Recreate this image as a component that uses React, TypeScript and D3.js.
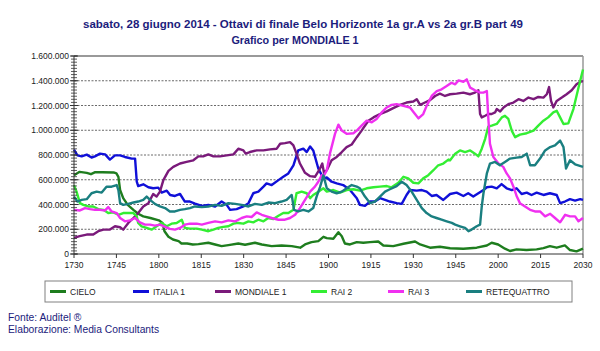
import React from "react";
import * as d3 from "d3";

const TITLE = "sabato, 28 giugno 2014 - Ottavi di finale Belo Horizonte 1a gr.A vs 2a gr.B part 49";
const SUBTITLE = "Grafico per MONDIALE 1";
const FOOTER = ["Fonte: Auditel ®", "Elaborazione: Media Consultants"];

const xTickLabels = ["1730", "1745", "1800", "1815", "1830", "1845", "1900", "1915", "1930", "1945", "2000", "2015", "2030"];
const yTicks = [0, 200000, 400000, 600000, 800000, 1000000, 1200000, 1400000, 1600000];

// [minute from 17:30, thousands of viewers]
const cielo: [number, number][] = [[0,637],[2,664],[4.5,656],[6,645],[7.5,661],[10,661],[14,659],[15,651],[15.7,624],[16.3,517],[17.4,451],[19,397],[21,357],[22.7,325],[24.5,304],[27,291],[30,272],[31.3,251],[32,184],[33.4,139],[35,117],[37,104],[38,85],[40,85],[42,77],[44,80],[47.5,91],[49.9,77],[52.2,64],[54.6,72],[58.1,85],[60.5,75],[64,91],[66.4,77],[69.9,64],[73.4,69],[77,64],[80,51],[81.7,77],[84,96],[86.4,104],[88.2,139],[89.4,128],[91.7,123],[93.5,176],[94.7,144],[95.8,85],[97.6,77],[100,96],[102.3,91],[104.7,96],[107.6,101],[109.4,69],[112.9,64],[116.5,83],[120.6,101],[122.4,77],[125.9,51],[129.4,59],[133,46],[137.7,43],[142.4,51],[146,69],[147.7,91],[150,77],[152.4,43],[154.2,24],[156.5,37],[160,32],[163.6,37],[166,48],[168.3,64],[170.7,51],[173.6,69],[175.4,32],[177.7,21],[180,43]];

const italia1: [number, number][] = [[0,843],[1.2,797],[2.7,789],[4.5,803],[6.2,779],[7.4,789],[9.2,811],[11,805],[12.7,763],[14.5,797],[16.3,797],[18,784],[20.4,771],[21.6,771],[22.2,584],[22.7,549],[24.5,563],[26.3,539],[28,531],[29.8,536],[31,496],[32.8,512],[34,477],[35.7,469],[37.5,485],[39.2,424],[41,424],[42.8,408],[45.2,389],[47.5,397],[49.9,384],[52.2,424],[54,397],[55.2,357],[57.5,363],[59.9,384],[61.7,411],[63.4,491],[65.2,504],[67,544],[68.1,571],[69.9,557],[72.3,597],[74,624],[75.8,651],[77.6,717],[79.3,837],[81.1,851],[82.3,824],[83.5,869],[84.6,837],[86.4,691],[88.2,611],[89.4,618],[91.1,584],[92.9,571],[95.2,557],[97.6,517],[100,451],[101.1,397],[102.9,389],[104.7,424],[106.4,424],[108.2,451],[110,437],[111.7,424],[114.1,411],[115.9,405],[117.6,477],[118.8,517],[121.2,512],[123,517],[124.7,504],[126.5,469],[128.2,477],[130.6,437],[133,485],[135.3,496],[137.7,469],[139.4,491],[141.2,464],[143,491],[144.8,517],[146,539],[147.7,544],[149.5,531],[151.2,565],[153,531],[154.8,517],[156.5,531],[158.3,485],[160.1,496],[161.8,477],[163.6,496],[166,477],[168.3,491],[170.7,477],[171.9,411],[173.6,424],[175.4,443],[177.2,432],[179,443],[180,437]];

const mondiale1: [number, number][] = [[0,131],[2,144],[4.5,157],[6.8,157],[8.6,184],[10.4,197],[12.7,197],[14.5,224],[16.3,216],[17.4,197],[19.2,251],[21,291],[22.7,331],[24.5,384],[26.3,411],[28,485],[29.2,464],[30.4,504],[31.6,597],[33.4,672],[35.1,704],[37.5,731],[39.8,744],[42.2,757],[44,789],[45.7,789],[47.5,805],[49.3,789],[51.6,789],[54,797],[56.4,805],[58.1,851],[59.9,837],[60.7,811],[62.2,824],[64.6,837],[67,837],[69.3,845],[71.7,851],[72.9,891],[74.6,896],[76.4,904],[77.6,877],[78.7,811],[79.9,731],[81.7,656],[83.5,629],[85.2,624],[87,690],[87.8,731],[88.4,656],[89.4,677],[91.1,757],[92.9,784],[94.7,824],[96.4,864],[98.2,885],[100,944],[101.7,997],[104.1,1077],[105.9,1104],[108.2,1131],[110.6,1152],[112.9,1179],[115.3,1205],[117.6,1224],[120,1232],[121.2,1251],[122.4,1205],[124.1,1224],[125.9,1243],[127.7,1277],[129.4,1296],[131.2,1277],[133,1291],[135.3,1296],[137.7,1304],[140,1291],[141.8,1304],[143,1323],[143.6,1131],[144.2,1104],[145.4,1117],[146.5,1131],[147.7,1131],[148.9,1144],[149.5,1171],[150.7,1152],[151.9,1184],[153.6,1211],[155.4,1224],[157.2,1251],[158.9,1237],[160.7,1264],[162.5,1251],[164.2,1269],[166,1264],[167.2,1291],[168,1349],[168.7,1237],[169.5,1184],[170.7,1237],[172.5,1264],[174.2,1291],[176,1323],[177.7,1371],[179.5,1397],[180,1392]];

const rai2: [number, number][] = [[0,557],[0.9,504],[2.1,411],[3.3,397],[5,384],[6.8,384],[8.6,363],[10.4,357],[12.1,331],[13.9,336],[15.7,317],[17.4,331],[19.2,331],[21,331],[22.2,304],[22.7,251],[23.9,224],[25.7,211],[27.5,197],[29.2,224],[31,251],[32.8,224],[34.5,245],[36.3,251],[38.1,277],[39.2,211],[41,205],[43.4,205],[45.2,197],[47.5,184],[49.3,197],[51,211],[52.8,219],[54.6,224],[56.4,245],[58.1,251],[59.9,245],[61.7,264],[63.4,256],[65.2,277],[67,264],[68.7,291],[70.5,283],[72.3,309],[74,331],[75.8,331],[77.6,357],[78.7,491],[80.5,504],[82.3,491],[83.5,451],[84.6,477],[86.4,504],[88.2,531],[89.4,504],[91.7,517],[94.1,496],[96.4,517],[98.8,523],[101.1,512],[103.5,531],[105.9,539],[108.2,544],[110.6,549],[112.3,539],[114.7,576],[116.5,624],[118.2,611],[120,576],[121.8,571],[123.5,611],[125.3,637],[127.1,677],[128.8,717],[130.6,731],[132.4,763],[133,757],[134.8,811],[136.5,837],[138.3,824],[140.1,837],[141.8,811],[143,789],[144.2,851],[145.4,931],[146.5,1029],[147.7,1037],[149.5,1051],[151.3,1104],[152.4,1117],[153.6,1091],[154.8,997],[156,944],[157.7,965],[160.1,976],[162.5,997],[164.2,1037],[166,1077],[167.7,1104],[169.5,1144],[170.7,1157],[171.9,1104],[173.1,1051],[174.8,1056],[176.6,1171],[178.4,1344],[180,1491]];

const rai3: [number, number][] = [[0,357],[2.1,352],[3.9,371],[5.7,363],[7.4,357],[9.2,357],[11,352],[12.1,379],[13.3,344],[15.1,331],[16.3,291],[18,264],[19.8,272],[21.6,291],[23.3,256],[25.1,237],[26.9,237],[28.6,229],[30.4,237],[32.2,219],[33.9,203],[35.7,197],[37.5,211],[39.2,237],[41,245],[43.4,245],[45.2,237],[47.5,251],[49.9,264],[52.2,256],[54.6,272],[57,264],[59.3,291],[61.1,304],[62.8,299],[64.6,336],[66.4,317],[68.1,304],[69.9,291],[72.3,277],[74.6,277],[76.4,291],[78.2,317],[79.9,371],[81.7,437],[83.5,504],[85.2,544],[86.4,584],[87.6,637],[88.2,624],[89.4,677],[90.5,811],[92.3,971],[93.5,1045],[94.7,997],[96.4,971],[98.8,976],[100,997],[101.7,1037],[103.5,1077],[105.3,1064],[107,1091],[108.8,1144],[110.6,1184],[112.3,1205],[114.1,1211],[116.5,1197],[118.8,1184],[120.6,1131],[121.8,1096],[123.5,1131],[124.7,1197],[126.5,1277],[128.3,1317],[130,1331],[131.8,1357],[133.5,1384],[134.8,1371],[136,1403],[137.7,1392],[138.9,1411],[140.1,1344],[141.8,1323],[143.6,1304],[144.8,1304],[146,1317],[146.5,1104],[147.1,891],[148.3,784],[150.1,731],[151.8,704],[153,651],[154.2,611],[155.4,544],[156.6,464],[157.7,411],[159.5,384],[161.3,357],[163,344],[164.8,344],[166.6,304],[168.4,325],[170.1,291],[171.9,256],[173.7,317],[175.4,304],[177.2,304],[178.4,264],[180,291]];

const retequattro: [number, number][] = [[0,464],[1.2,424],[2.7,437],[4.5,443],[6.2,491],[8,504],[9.8,496],[11.5,544],[13.3,544],[15.1,557],[15.7,517],[16.3,411],[17.4,397],[19.2,405],[21,416],[22.7,424],[24.5,437],[25.7,464],[26.9,437],[28.6,405],[30.4,384],[32.2,371],[33.9,344],[35.7,344],[37.5,357],[39.2,363],[41,371],[42.8,384],[45.2,379],[47.5,384],[49.9,397],[52.2,389],[54.6,411],[57,405],[59.3,397],[61.7,384],[64,405],[66.4,397],[68.7,416],[71.1,411],[73.4,424],[75.2,437],[77,477],[77.8,357],[79.3,344],[81.1,357],[82.9,344],[84.6,371],[85.8,464],[87,540],[88.2,635],[89.4,531],[91.1,504],[92.9,491],[94.7,504],[96.4,531],[98.2,557],[100,544],[101.1,531],[102.9,464],[104.7,411],[106.4,424],[108.2,464],[110,504],[111.7,523],[114.1,549],[115.9,584],[117.6,557],[119.4,504],[121.2,437],[123,371],[124.7,331],[126.5,304],[128.2,291],[130,277],[131.8,264],[133.6,251],[134.8,237],[136.5,224],[138.3,211],[139.5,184],[140.6,197],[142.4,224],[143.6,237],[144.2,384],[144.8,491],[146,651],[147.1,731],[148.9,744],[150.6,717],[152.4,744],[154.2,771],[156.5,779],[158.3,784],[160.1,811],[161.3,717],[163,717],[164.8,771],[166.6,837],[168.4,864],[170.1,877],[171.9,917],[173.1,864],[174,691],[175.4,757],[177.2,725],[180,704]];

const seriesNames = ["CIELO", "ITALIA 1", "MONDIALE 1", "RAI 2", "RAI 3", "RETEQUATTRO"];
const seriesColors = ["#1e7d1e", "#1010d8", "#7a1a7a", "#33ee33", "#f030f0", "#1a7f80"];
const seriesData = [cielo, italia1, mondiale1, rai2, rai3, retequattro];
const legendX = [50, 133, 215, 311, 388, 466];

const FONT = "'Liberation Sans', Arial, Helvetica, sans-serif";
const NAVY = "#1c1c7c";

export default function App() {
  const W = 600, H = 351;
  const left = 74, right = 583, top = 56, bottom = 254;
  const x = d3.scaleLinear().domain([0, 180]).range([left, right]);
  const y = d3.scaleLinear().domain([0, 1600000]).range([bottom, top]);
  const line = d3.line<[number, number]>()
    .x(d => x(d[0]))
    .y(d => y(d[1] * 1000))
    .curve(d3.curveLinear);
  const fmt = (v: number) => d3.format(",")(v).replace(/,/g, ".");
  const minor = d3.range(0, 1600001, 25000);
  const xTicks = xTickLabels.map((_, i) => i * 15);

  return (
    <svg width={W} height={H} style={{ position: "absolute", left: 0, top: 0, background: "#fff" }} fontFamily={FONT}>
      <rect x={0} y={0} width={W} height={H} fill="#fff" />
      <text x={303} y={28} textAnchor="middle" fontSize={11.5} fontWeight="bold" fill={NAVY}>{TITLE}</text>
      <text x={295} y={44} textAnchor="middle" fontSize={10.8} fontWeight="bold" fill={NAVY}>{SUBTITLE}</text>

      {/* grid */}
      {yTicks.filter(v => v > 0 && v < 1600000).map(v => (
        <line key={"g" + v} x1={left} x2={right} y1={y(v)} y2={y(v)} stroke="#444" strokeWidth={0.8} strokeDasharray="2,1.5" />
      ))}
      {/* frame */}
      <line x1={left} x2={right} y1={top} y2={top} stroke="#999" strokeWidth={2} />
      <line x1={right} x2={right} y1={top} y2={bottom} stroke="#999" strokeWidth={1.5} />

      {/* series */}
      {seriesData.map((d, i) => (
        <path key={seriesNames[i]} d={line(d) || ""} fill="none" stroke={seriesColors[i]} strokeWidth={2.4} strokeLinejoin="round" />
      ))}

      {/* y axis */}
      <line x1={left} x2={left} y1={top} y2={bottom} stroke="#333" strokeWidth={1} />
      {minor.map(v => (
        <line key={"m" + v} x1={left - 3} x2={left + 3} y1={y(v)} y2={y(v)} stroke="#333" strokeWidth={0.8} />
      ))}
      {yTicks.map(v => (
        <g key={"yt" + v}>
          <line x1={left - 4} x2={left + 4} y1={y(v)} y2={y(v)} stroke="#333" strokeWidth={1} />
          <text x={left - 5} y={y(v) + 3} textAnchor="end" fontSize={8.5} fill="#222">{fmt(v)}</text>
        </g>
      ))}

      {/* x axis */}
      <line x1={left} x2={right} y1={bottom} y2={bottom} stroke="#333" strokeWidth={1} />
      {xTicks.map((m, i) => (
        <g key={"xt" + m}>
          <line x1={x(m)} x2={x(m)} y1={bottom} y2={bottom + 4} stroke="#333" strokeWidth={1} />
          <text x={x(m)} y={bottom + 14} textAnchor="middle" fontSize={8.5} fill="#222">{xTickLabels[i]}</text>
        </g>
      ))}

      {/* legend */}
      <rect x={45} y={281} width={527} height={21} fill="#fff" stroke="#808080" strokeWidth={1} />
      {seriesNames.map((n, i) => (
        <g key={"lg" + n}>
          <line x1={legendX[i]} x2={legendX[i] + 16} y1={291.5} y2={291.5} stroke={seriesColors[i]} strokeWidth={3} />
          <text x={legendX[i] + 20} y={294.5} fontSize={8.5} fill="#222">{n}</text>
        </g>
      ))}

      {/* footer */}
      <text x={8} y={321} fontSize={10.3} fill={NAVY}>{FOOTER[0]}</text>
      <text x={8} y={333} fontSize={10.3} fill={NAVY}>{FOOTER[1]}</text>
    </svg>
  );
}
